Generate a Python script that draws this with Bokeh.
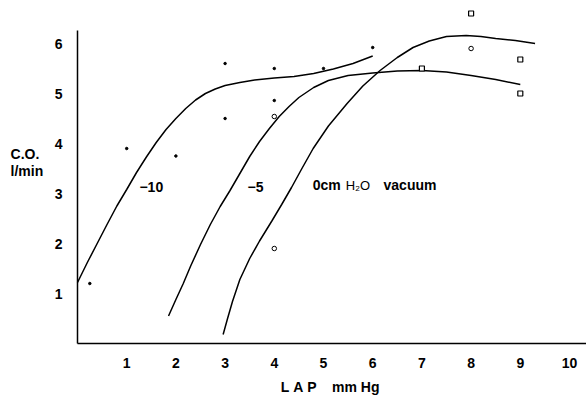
from bokeh.plotting import figure
from bokeh.models import Label, FixedTicker, Range1d, LinearAxis
from bokeh.embed import file_html
from bokeh.resources import INLINE

# ---- data ----
x_ticks = [1, 2, 3, 4, 5, 6, 7, 8, 9, 10]
y_ticks = [1, 2, 3, 4, 5, 6]

# curve for -10 cmH2O vacuum
c10_x = [0.0, 0.2, 0.4, 0.6, 0.8, 1.0, 1.2, 1.4, 1.6, 1.8, 2.0, 2.2, 2.4, 2.6, 2.8, 3.0, 3.3, 3.6, 4.0, 4.4, 4.8, 5.2, 5.6, 6.0]
c10_y = [1.22, 1.62, 2.0, 2.38, 2.75, 3.08, 3.42, 3.73, 4.02, 4.28, 4.5, 4.7, 4.87, 5.0, 5.09, 5.16, 5.22, 5.27, 5.31, 5.34, 5.4, 5.49, 5.6, 5.75]

# curve for -5 cmH2O vacuum
c5_x = [1.85, 2.0, 2.15, 2.3, 2.5, 2.7, 2.9, 3.1, 3.3, 3.5, 3.7, 3.9, 4.1, 4.3, 4.5, 4.8, 5.1, 5.5, 6.0, 6.5, 7.0, 7.5, 8.0, 8.5, 9.0]
c5_y = [0.55, 0.88, 1.2, 1.55, 1.98, 2.38, 2.74, 3.06, 3.4, 3.74, 4.04, 4.3, 4.54, 4.74, 4.92, 5.12, 5.26, 5.36, 5.41, 5.45, 5.46, 5.43, 5.36, 5.28, 5.18]

# curve for 0 cmH2O vacuum
c0_x = [2.96, 3.05, 3.15, 3.3, 3.5, 3.7, 3.95, 4.15, 4.35, 4.55, 4.79, 5.1, 5.48, 5.8, 6.15, 6.5, 6.82, 7.15, 7.5, 7.9, 8.2, 8.5, 8.9, 9.3]
c0_y = [0.18, 0.5, 0.84, 1.28, 1.7, 2.05, 2.45, 2.78, 3.12, 3.48, 3.9, 4.35, 4.8, 5.15, 5.46, 5.72, 5.92, 6.05, 6.14, 6.16, 6.14, 6.1, 6.06, 6.0]

# measured points
dot_x = [0.25, 1.0, 2.0, 3.0, 3.0, 4.0, 4.0, 5.0, 6.0]
dot_y = [1.2, 3.9, 3.75, 5.6, 4.5, 5.5, 4.86, 5.5, 5.92]
circ_x = [4.0, 4.0, 8.0]
circ_y = [4.54, 1.9, 5.9]
sq_x = [7.0, 8.0, 9.0, 9.0]
sq_y = [5.5, 6.6, 5.68, 5.0]

FONT = "Liberation Sans"
W, H = 586, 395
PX_X, PX_Y = 49.2, 50.0      # pixels per unit
X0_PX, Y0_PX = 77, 343       # pixel position of the origin
x0 = -X0_PX / PX_X
y1 = Y0_PX / PX_Y

p = figure(width=W, height=H, output_backend="svg", toolbar_location=None,
           x_range=Range1d(x0, x0 + W / PX_X), y_range=Range1d(y1 - H / PX_Y, y1),
           x_axis_location=None, y_axis_location=None,
           min_border=0, min_border_left=0, min_border_right=0,
           min_border_top=0, min_border_bottom=0)
p.outline_line_color = None
p.grid.visible = False
p.background_fill_color = "white"
p.border_fill_color = "white"

xaxis = LinearAxis(fixed_location=0, bounds=(0, 10.35), ticker=FixedTicker(ticks=x_ticks))
yaxis = LinearAxis(fixed_location=0, bounds=(0, 6.26), ticker=FixedTicker(ticks=y_ticks))
for ax in (xaxis, yaxis):
    ax.major_tick_line_color = None
    ax.minor_tick_line_color = None
    ax.axis_line_color = "black"
    ax.axis_line_width = 1.5
    ax.major_label_text_font = FONT
    ax.major_label_text_font_size = "14px"
    ax.major_label_text_font_style = "bold"
    ax.major_label_text_color = "black"
xaxis.major_label_standoff = 8
yaxis.major_label_standoff = 9
p.add_layout(xaxis, "below")
p.add_layout(yaxis, "left")

for cx, cy in ((c10_x, c10_y), (c5_x, c5_y), (c0_x, c0_y)):
    p.line(cx, cy, line_color="black", line_width=1.5)

p.scatter(dot_x, dot_y, marker="circle", size=2.5, fill_color="black", line_color="black")
p.scatter(circ_x, circ_y, marker="circle", size=4.5, fill_color="white", line_color="black", line_width=1)
p.scatter(sq_x, sq_y, marker="square", size=5, fill_color="white", line_color="black", line_width=1.2)

def lab(x, y, t, size="14px", align="left", style="bold"):
    p.add_layout(Label(x=x, y=y, text=t, text_font=FONT, text_font_size=size,
                       text_font_style=style, text_align=align, text_baseline="middle",
                       text_color="black"))

NB = "\u00a0"
lab(1.5, 3.14, "\u221210", align="center")
lab(3.62, 3.14, "\u22125", align="center")
lab(4.78, 3.18, "0cm")
lab(5.45, 3.16, "H\u2082O", size="13px", style="normal")
lab(6.22, 3.18, "vacuum")

# axis titles
lab(-1.36, 3.8, "C.O.", size="14px")
lab(-1.36, 3.46, "l/min", size="14px")
lab(4.13, -0.86, "L" + NB + "A" + NB + "P" + NB * 4 + "mm" + NB + "Hg", size="14px")

open("out.html", "w").write(file_html(p, INLINE))
